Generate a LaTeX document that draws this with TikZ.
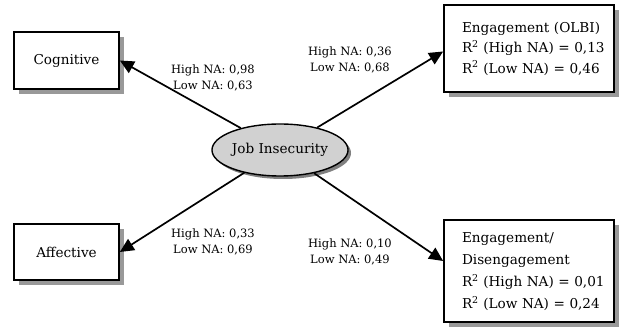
\documentclass[tikz,border=0pt]{standalone}
\usepackage{fontspec}
\setmainfont{DejaVu Serif}
\usetikzlibrary{shadows,arrows.meta,calc,shapes.geometric}
\newcommand{\lefttab}[1]{\hspace*{18pt}\begin{tabular}{@{}l@{}}#1\end{tabular}}
\begin{document}
\begin{tikzpicture}[x=1pt,y=-1pt,
  box/.style={draw=black,line width=1.7pt,fill=white,inner sep=0pt,
    drop shadow={shadow xshift=5pt,shadow yshift=-5pt,fill=black!40,opacity=1},
    font=\fontsize{13.6}{20.5}\selectfont},
  bigbox/.style={box,minimum width=170pt,text width=170pt,align=left},
  ell/.style={draw=black,line width=1.4pt,fill=black!18,ellipse,inner sep=0pt,
    drop shadow={shadow xshift=3pt,shadow yshift=-3pt,fill=black!50,opacity=1},
    font=\fontsize{13.6}{16}\selectfont},
  lab/.style={font=\fontsize{11.5}{15.5}\selectfont,align=center,inner sep=0pt},
  arr/.style={line width=1.7pt,-{Triangle[length=14pt,width=13pt]}}]
\useasboundingbox (0,0) rectangle (622,328);
\node[box,minimum width=105pt,minimum height=57pt] (cog) at (66.5,60.5) {Cognitive};
\node[box,minimum width=105pt,minimum height=56pt] (aff) at (66.5,252) {Affective};
\node[bigbox,minimum height=87pt] (eng) at (529,48.5)
  {\lefttab{Engagement (OLBI)\\R\textsuperscript{2} (High NA) = 0,13\\R\textsuperscript{2} (Low NA) = 0,46}};
\node[bigbox,minimum height=102pt,font=\fontsize{13.6}{22.3}\selectfont] (dis) at (529,271)
  {\lefttab{Engagement/\\Disengagement\\R\textsuperscript{2} (High NA) = 0,01\\R\textsuperscript{2} (Low NA) = 0,24}};
\node[ell,minimum width=130pt,minimum height=52pt] (ji) at (280,150) {Job Insecurity};
\coordinate (t1) at ($(eng.west)+(0,3)$);
\coordinate (t2) at ($(dis.west)+(0,-10)$);
\draw[arr] (ji) -- (cog.east);
\draw[arr] (ji) -- (aff.east);
\draw[arr] (ji) -- (t1);
\draw[arr] (ji) -- (t2);
\node[lab] (l1) at (213,78) {High NA: 0,98\\Low NA: 0,63};
\node[lab] (l2) at (350,60) {High NA: 0,36\\Low NA: 0,68};
\node[lab] (l3) at (213,242) {High NA: 0,33\\Low NA: 0,69};
\node[lab] (l4) at (350,252) {High NA: 0,10\\Low NA: 0,49};
\end{tikzpicture}
\end{document}
